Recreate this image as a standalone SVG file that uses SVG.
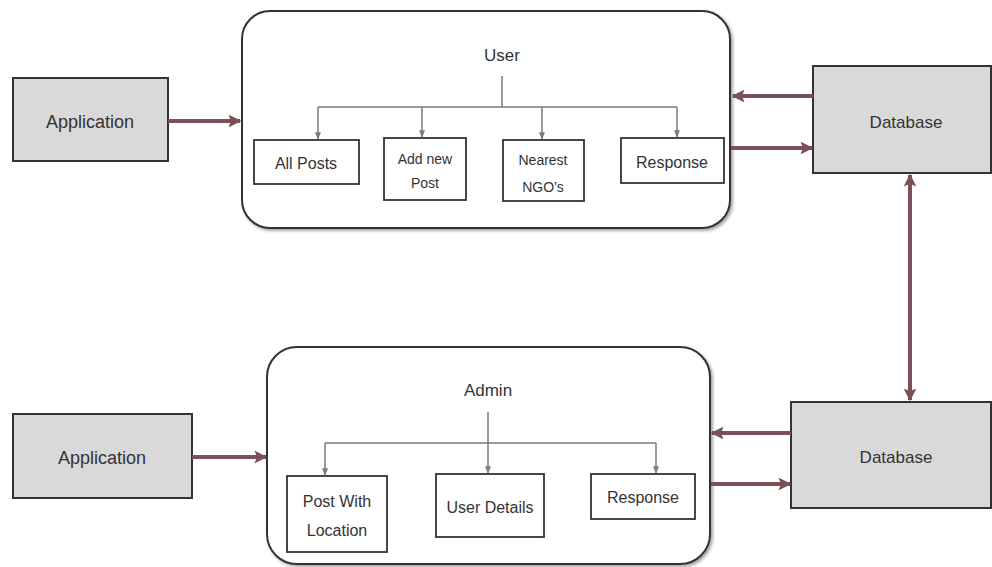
<svg xmlns="http://www.w3.org/2000/svg" width="992" height="567" viewBox="0 0 992 567">
<style>
.t{font-family:"Liberation Sans",Arial,sans-serif;fill:#333;text-anchor:middle}
.gbox{fill:#d9d9d9;stroke:#333;stroke-width:2}
.cont{fill:#fff;stroke:#333;stroke-width:2;filter:url(#sh)}
.child{fill:#fff;stroke:#333;stroke-width:1.8}
.big{stroke:#7d4f56;stroke-width:4;fill:none}
.thin{stroke:#7a7a7a;stroke-width:1.5;fill:none}
</style>
<defs>
<filter id="sh" x="-5%" y="-5%" width="112%" height="115%">
<feDropShadow dx="2" dy="2" stdDeviation="1.5" flood-color="#000" flood-opacity="0.35"/>
</filter>
<marker id="ab" viewBox="0 0 10 10" refX="9" refY="5" markerWidth="3.2" markerHeight="3.2" orient="auto-start-reverse">
<path d="M0,0 L10,5 L0,10 L2,5 Z" fill="#7d4f56"/>
</marker>
<marker id="as" viewBox="0 0 10 10" refX="9" refY="5" markerWidth="5" markerHeight="5" orient="auto">
<path d="M0,1 L10,5 L0,9 Z" fill="#7a7a7a"/>
</marker>
</defs>

<g id="app1"><rect class="gbox" x="13" y="78" width="155" height="83"/><text class="t" x="90" y="128" font-size="18">Application</text></g>

<g id="user">
<rect class="cont" x="242" y="11" width="488" height="217" rx="28"/>
<text class="t" x="502" y="61" font-size="17">User</text>
</g>
<g id="allposts"><rect class="child" x="254" y="140" width="105" height="44"/><text class="t" x="306" y="169" font-size="16">All Posts</text></g>
<g id="addpost"><rect class="child" x="384" y="138" width="82" height="62"/><text class="t" x="425" y="164" font-size="14">Add new</text><text class="t" x="425" y="188" font-size="14">Post</text></g>
<g id="ngo"><rect class="child" x="503" y="140" width="81" height="61"/><text class="t" x="543" y="165" font-size="14">Nearest</text><text class="t" x="543" y="192" font-size="14">NGO’s</text></g>
<g id="resp1"><rect class="child" x="621" y="138" width="103" height="45"/><text class="t" x="672" y="168" font-size="16">Response</text></g>

<g id="db1"><rect class="gbox" x="813" y="66" width="178" height="107"/><text class="t" x="906" y="128" font-size="17">Database</text></g>

<g id="app2"><rect class="gbox" x="13" y="414" width="179" height="84"/><text class="t" x="102" y="464" font-size="18">Application</text></g>

<g id="admin">
<rect class="cont" x="267" y="347" width="443" height="217" rx="30"/>
<text class="t" x="488" y="396" font-size="17">Admin</text>
</g>
<g id="postloc"><rect class="child" x="287" y="476" width="100" height="76"/><text class="t" x="337" y="507" font-size="16">Post With</text><text class="t" x="337" y="536" font-size="16">Location</text></g>
<g id="userdet"><rect class="child" x="436" y="474" width="108" height="63"/><text class="t" x="490" y="513" font-size="16">User Details</text></g>
<g id="resp2"><rect class="child" x="591" y="474" width="104" height="45"/><text class="t" x="643" y="503" font-size="16">Response</text></g>

<g id="db2"><rect class="gbox" x="791" y="402" width="200" height="106"/><text class="t" x="896" y="463" font-size="17">Database</text></g>

<g id="connectors">
<path class="big" d="M168,121 L240,121" marker-end="url(#ab)"/>
<path class="big" d="M813,96 L733,96" marker-end="url(#ab)"/>
<path class="big" d="M731,148 L812,148" marker-end="url(#ab)"/>
<path class="big" d="M910,175 L910,400" marker-start="url(#ab)" marker-end="url(#ab)"/>
<path class="big" d="M192,457 L266,457" marker-end="url(#ab)"/>
<path class="big" d="M791,433 L712,433" marker-end="url(#ab)"/>
<path class="big" d="M711,484 L790,484" marker-end="url(#ab)"/>

<path class="thin" d="M502,76 L502,107 M318,107 L677,107"/>
<path class="thin" d="M318,107 L318,139" marker-end="url(#as)"/>
<path class="thin" d="M422,107 L422,137" marker-end="url(#as)"/>
<path class="thin" d="M542,107 L542,139" marker-end="url(#as)"/>
<path class="thin" d="M677,107 L677,137" marker-end="url(#as)"/>

<path class="thin" d="M488,412 L488,443 M325,443 L656,443"/>
<path class="thin" d="M325,443 L325,475" marker-end="url(#as)"/>
<path class="thin" d="M488,443 L488,473" marker-end="url(#as)"/>
<path class="thin" d="M656,443 L656,473" marker-end="url(#as)"/>
</g>
</svg>
